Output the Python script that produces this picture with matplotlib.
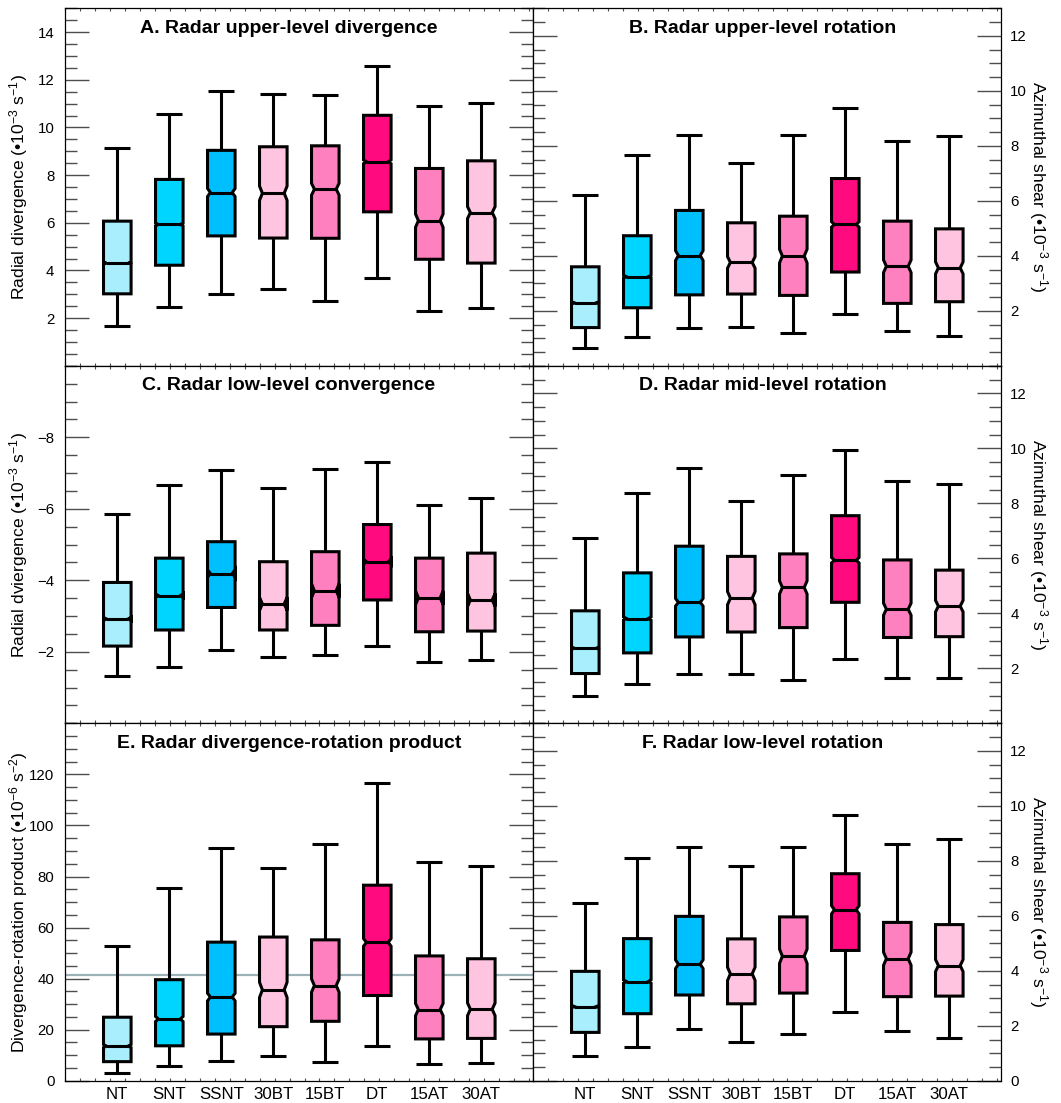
import numpy as np
import matplotlib
matplotlib.use('Agg')
import matplotlib.pyplot as plt
from matplotlib.patches import Polygon
from matplotlib.ticker import MultipleLocator, FixedLocator

plt.rcParams['font.family'] = ['Liberation Sans', 'DejaVu Sans']
plt.rcParams['mathtext.fontset'] = 'custom'
plt.rcParams['mathtext.rm'] = 'Liberation Sans'
plt.rcParams['mathtext.default'] = 'regular'

categories = ['NT', 'SNT', 'SSNT', '30BT', '15BT', 'DT', '15AT', '30AT']
box_colors = ['#a8eefc', '#00d5ff', '#00bfff', '#ffc4e0',
              '#ff80bf', '#ff0a7f', '#ff80bf', '#ffc4e0']

# A. upper-level divergence
a_hi = [9.12, 10.57, 11.55, 11.39, 11.38, 12.58, 10.89, 11.03]
a_q3 = [6.07, 7.82, 9.04, 9.19, 9.23, 10.51, 8.28, 8.60]
a_med = [4.31, 5.93, 7.27, 7.24, 7.41, 8.56, 6.09, 6.43]
a_q1 = [3.02, 4.22, 5.45, 5.36, 5.35, 6.46, 4.47, 4.31]
a_lo = [1.69, 2.46, 3.02, 3.22, 2.73, 3.67, 2.28, 2.41]
a_notch = [0.04, 0.06, 0.17, 0.30, 0.25, 0.08, 0.28, 0.25]

# B. upper-level rotation
b_hi = [6.21, 7.68, 8.41, 7.37, 8.38, 9.36, 8.16, 8.34]
b_q3 = [3.60, 4.73, 5.65, 5.20, 5.44, 6.81, 5.26, 4.98]
b_med = [2.29, 3.24, 4.01, 3.76, 3.99, 5.14, 3.62, 3.56]
b_q1 = [1.39, 2.11, 2.58, 2.61, 2.56, 3.41, 2.27, 2.33]
b_lo = [0.63, 1.03, 1.39, 1.42, 1.20, 1.90, 1.28, 1.10]
b_notch = [0.04, 0.05, 0.18, 0.21, 0.25, 0.10, 0.23, 0.22]

# C. low-level convergence (negative divergence)
c_hi = [-5.86, -6.67, -7.08, -6.59, -7.12, -7.31, -6.12, -6.30]
c_q3 = [-3.94, -4.62, -5.08, -4.52, -4.80, -5.56, -4.62, -4.76]
c_med = [-2.92, -3.57, -4.19, -3.34, -3.71, -4.52, -3.51, -3.45]
c_q1 = [-2.16, -2.61, -3.24, -2.61, -2.74, -3.45, -2.56, -2.58]
c_lo = [-1.32, -1.57, -2.05, -1.85, -1.90, -2.16, -1.72, -1.77]
c_notch = [0.04, 0.05, 0.10, 0.18, 0.19, 0.07, 0.19, 0.18]

# D. mid-level rotation
d_hi = [6.73, 8.36, 9.28, 8.08, 9.04, 9.94, 8.81, 8.69]
d_q3 = [4.09, 5.47, 6.44, 6.07, 6.16, 7.55, 5.94, 5.57]
d_med = [2.73, 3.81, 4.40, 4.55, 4.94, 5.93, 4.15, 4.26]
d_q1 = [1.81, 2.56, 3.14, 3.32, 3.48, 4.40, 3.12, 3.15]
d_lo = [0.98, 1.44, 1.78, 1.78, 1.56, 2.33, 1.65, 1.64]
d_notch = [0.04, 0.06, 0.14, 0.24, 0.24, 0.10, 0.22, 0.21]

# E. divergence-rotation product
e_hi = [52.6, 75.6, 91.3, 83.4, 92.6, 116.7, 85.8, 84.3]
e_q3 = [24.9, 39.6, 54.3, 56.3, 55.2, 76.6, 48.9, 47.8]
e_med = [13.6, 24.2, 32.8, 35.6, 37.3, 54.2, 27.9, 28.0]
e_q1 = [7.5, 13.7, 18.3, 21.2, 23.3, 33.4, 16.4, 16.6]
e_lo = [3.0, 5.8, 7.7, 9.7, 7.2, 13.5, 6.5, 6.8]
e_notch = [0.6, 1.0, 1.5, 3.0, 2.6, 1.5, 2.4, 2.5]
e_ref = 41.6

# F. low-level rotation
f_hi = [6.46, 8.12, 8.49, 7.82, 8.52, 9.67, 8.62, 8.81]
f_q3 = [3.98, 5.17, 5.98, 5.16, 5.96, 7.53, 5.76, 5.68]
f_med = [2.70, 3.61, 4.24, 3.89, 4.53, 6.22, 4.44, 4.19]
f_q1 = [1.76, 2.44, 3.12, 2.80, 3.19, 4.74, 3.06, 3.08]
f_lo = [0.89, 1.24, 1.87, 1.41, 1.70, 2.49, 1.80, 1.57]
f_notch = [0.04, 0.06, 0.16, 0.24, 0.26, 0.15, 0.24, 0.22]

HALF = 0.265   # half box width
CAP = 0.25     # half cap width
INSET = 0.055  # notch depth
LW = 2.2


def draw_box(ax, x, lo, q1, med, q3, hi, nh, color):
    ax.plot([x, x], [q3, hi], color='k', lw=LW, solid_capstyle='butt', zorder=2)
    ax.plot([x, x], [q1, lo], color='k', lw=LW, solid_capstyle='butt', zorder=2)
    ax.plot([x - CAP, x + CAP], [hi, hi], color='k', lw=LW, solid_capstyle='butt', zorder=2)
    ax.plot([x - CAP, x + CAP], [lo, lo], color='k', lw=LW, solid_capstyle='butt', zorder=2)
    verts = [(x - HALF, q1), (x + HALF, q1), (x + HALF, med - nh),
             (x + HALF - INSET, med), (x + HALF, med + nh), (x + HALF, q3),
             (x - HALF, q3), (x - HALF, med + nh), (x - HALF + INSET, med),
             (x - HALF, med - nh)]
    ax.add_patch(Polygon(verts, closed=True, fc=color, ec='k', lw=LW,
                         joinstyle='miter', zorder=3))
    ax.plot([x - HALF + INSET, x + HALF - INSET], [med, med], color='k',
            lw=LW, solid_capstyle='butt', zorder=4)


W, H = 1061, 1103
fig = plt.figure(figsize=(W / 100, H / 100), dpi=100)

x0L, x0R, aw = 65.3, 533.3, 468.0
top, ah = 8.3, 357.5

panels = [
    ('A. Radar upper-level divergence', a_lo, a_q1, a_med, a_q3, a_hi, a_notch),
    ('B. Radar upper-level rotation', b_lo, b_q1, b_med, b_q3, b_hi, b_notch),
    ('C. Radar low-level convergence', c_lo, c_q1, c_med, c_q3, c_hi, c_notch),
    ('D. Radar mid-level rotation', d_lo, d_q1, d_med, d_q3, d_hi, d_notch),
    ('E. Radar divergence-rotation product', e_lo, e_q1, e_med, e_q3, e_hi, e_notch),
    ('F. Radar low-level rotation', f_lo, f_q1, f_med, f_q3, f_hi, f_notch),
]

pos = np.arange(1, len(categories) + 1)
maj_len = 17
min_len = 8.6

for k, (title, lo, q1, med, q3, hi, nh) in enumerate(panels):
    row, col = divmod(k, 2)
    left = x0L if col == 0 else x0R
    ytop = top + row * ah
    ax = fig.add_axes([left / W, 1 - (ytop + ah) / H, aw / W, ah / H])

    for i in range(len(categories)):
        draw_box(ax, pos[i], lo[i], q1[i], med[i], q3[i], hi[i], nh[i], box_colors[i])

    ax.set_xlim(0, 9)
    ax.xaxis.set_major_locator(FixedLocator(pos))
    ax.xaxis.set_minor_locator(MultipleLocator(0.2875))
    ax.tick_params(axis='x', which='major', length=0, pad=4.5, labelsize=12.2)
    ax.tick_params(axis='x', which='minor', direction='in', length=2.5,
                   width=0.8, color='0.3', top=True, bottom=True)
    if row == 2:
        ax.set_xticklabels(categories)
    else:
        ax.set_xticklabels([])

    if k == 0:
        ax.set_ylim(0, 15)
        ax.yaxis.set_major_locator(FixedLocator(np.arange(2, 15, 2)))
        ax.yaxis.set_minor_locator(MultipleLocator(0.5))
    elif k == 2:
        ax.set_ylim(0, -10)
        ax.yaxis.set_major_locator(FixedLocator([-8, -6, -4, -2]))
        ax.yaxis.set_minor_locator(MultipleLocator(0.5))
    elif k == 4:
        ax.set_ylim(0, 140)
        ax.yaxis.set_major_locator(FixedLocator(np.arange(0, 121, 20)))
        ax.yaxis.set_minor_locator(MultipleLocator(5))
        ax.axhline(e_ref, color='#9cb2b9', lw=1.6, zorder=1)
    else:
        ax.set_ylim(0, 13)
        start = 0 if k == 5 else 2
        ax.yaxis.set_major_locator(FixedLocator(np.arange(start, 13, 2)))
        ax.yaxis.set_minor_locator(MultipleLocator(0.5))

    ax.tick_params(axis='y', which='both', direction='in', left=True, right=True,
                   color='0.3', width=1.0, labelsize=10.8)
    ax.tick_params(axis='y', which='major', length=maj_len)
    ax.tick_params(axis='y', which='minor', length=min_len)
    if col == 0:
        ax.tick_params(axis='y', labelleft=True, labelright=False, pad=7.8)
    else:
        ax.tick_params(axis='y', labelleft=False, labelright=True, pad=6.5)

    for s in ax.spines.values():
        s.set_linewidth(0.9)
        s.set_color('k')

    tx = 0.478 if col == 0 else 0.491
    ax.text(tx, 1 - 24.5 / ah, title, transform=ax.transAxes, ha='center',
            va='baseline', fontsize=14, fontweight='bold')

# axis titles
unit3 = '(\u202210$^{-3}$ s$^{-1}$)'
unit6 = '(\u202210$^{-6}$ s$^{-2}$)'
left_labels = ['Radial divergence ' + unit3,
               'Radial dviergence ' + unit3,
               'Divergence-rotation product ' + unit6]
for row in range(3):
    yc = 1 - (top + row * ah + ah / 2) / H
    fig.text(18.5 / W, yc, left_labels[row], rotation=90, ha='center',
             va='center', fontsize=12.6)
    fig.text(1038 / W, yc, 'Azimuthal shear ' + unit3, rotation=270,
             ha='center', va='center', fontsize=12.6)

fig.savefig('out.png', dpi=100)
